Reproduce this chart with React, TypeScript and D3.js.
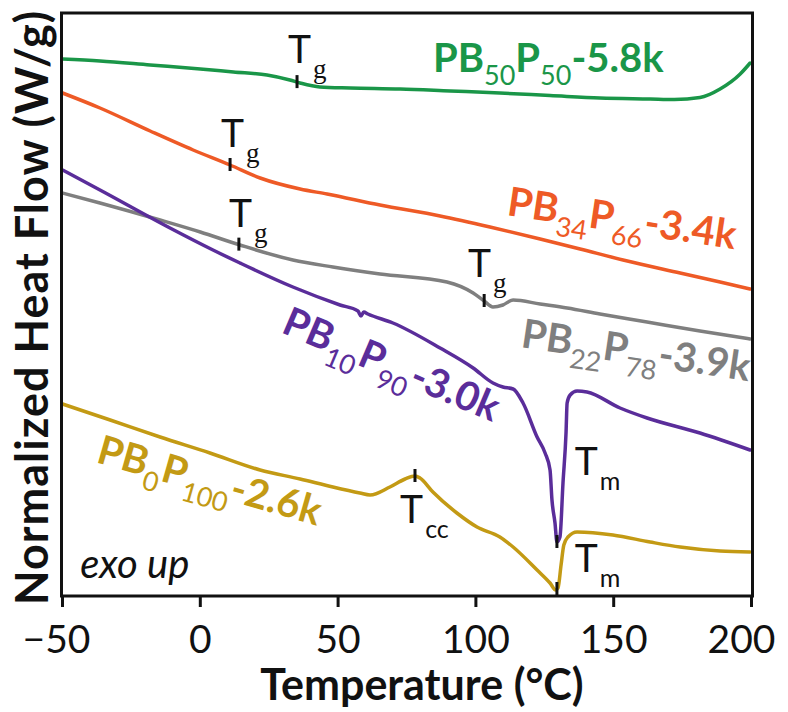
import React from 'react';
import * as d3 from 'd3';

// ---------- data (temperature °C, normalized heat flow, arbitrary offset W/g) ----------
const greenT = [-50, -36.4, -18.2, 0, 12, 24.2, 32.5, 36.2, 43.4, 54.4, 72.5, 90.7, 108.7, 126.9, 145, 163.2, 172, 181.3, 188.6, 195.9, 199.5];
const greenY = [5.37, 5.35, 5.31, 5.27, 5.24, 5.21, 5.16, 5.13, 5.09, 5.08, 5.07, 5.05, 5.03, 5.005, 4.98, 4.97, 4.965, 4.985, 5.07, 5.22, 5.33];

const orangeT = [-50, -36.4, -18.2, -2.6, 10.8, 21.7, 36.2, 46, 65.2, 87, 105.1, 123.3, 137.8, 153.4, 174.1, 188.6, 199.5];
const orangeY = [5.03, 4.88, 4.65, 4.46, 4.31, 4.18, 4.07, 4.02, 3.91, 3.80, 3.69, 3.57, 3.47, 3.36, 3.23, 3.14, 3.07];

const grayT = [-50, -36.4, -14.6, 0, 14.4, 33.6, 48.1, 65.2, 89.5, 99, 103, 106.2, 109.8, 113.5, 123.3, 133.1, 145, 162.1, 181.3, 199.5];
const grayY = [4.03, 3.93, 3.76, 3.64, 3.51, 3.36, 3.29, 3.22, 3.14, 3.03, 2.95, 2.89, 2.91, 2.96, 2.92, 2.88, 2.82, 2.74, 2.65, 2.57];

const purpleT = [-50, -36.4, -11, 4.6, 14.4, 33.6, 50.7, 57.2, 58.3, 59.3, 60.8, 69.9, 87, 99, 106.2, 109.8, 113.5, 117.1, 122.2, 125.1, 126.9, 127.6, 128.7, 129.4, 130.5, 131.6, 132.7, 133.1, 134.2, 136.7, 140.3, 152.3, 162.1, 181.3, 199.5];
const purpleY = [4.26, 4.06, 3.68, 3.46, 3.33, 3.09, 2.91, 2.85, 2.80, 2.84, 2.82, 2.73, 2.48, 2.28, 2.13, 2.09, 2.07, 1.93, 1.59, 1.43, 1.26, 0.96, 0.73, 0.54, 0.59, 1.13, 1.63, 1.93, 2.01, 2.05, 2.04, 1.88, 1.78, 1.63, 1.46];

const goldT = [-50, -32.7, -14.6, 3.5, 21.7, 36.2, 48.1, 57.9, 61.6, 68.8, 74.3, 77.9, 79.7, 84.4, 93.1, 100.4, 108.7, 113.5, 122.2, 126.9, 129, 129.8, 130.9, 131.9, 133.4, 136.7, 149.7, 163.2, 174.1, 188.6, 199.5];
const goldY = [1.92, 1.76, 1.59, 1.43, 1.26, 1.17, 1.09, 1.03, 1.01, 1.09, 1.17, 1.20, 1.18, 1.04, 0.83, 0.69, 0.59, 0.49, 0.26, 0.13, 0.06, 0.08, 0.31, 0.51, 0.59, 0.64, 0.61, 0.54, 0.49, 0.45, 0.44];

const xTicks = [-50, 0, 50, 100, 150, 200];
const xTickLabels = ['\u221250', '0', '50', '100', '150', '200'];

// transition markers: series index, temperature
const markerSeries = [0, 1, 2, 2, 4, 3, 4];
const markerTemps = [35.1, 10.8, 14.0, 103, 77.9, 129.4, 129.4];

// transition annotation labels
const annMain = ['T', 'T', 'T', 'T', 'T', 'T', 'T'];
const annSub = ['g', 'g', 'g', 'g', 'm', 'm', 'cc'];
const annT = [31.8, 7.5, 10.4, 97.1, 135.9, 135.9, 72.5];
const annY = [5.33, 4.49, 3.69, 3.19, 1.21, 0.24, 0.73];

// series labels: [main, sub, main, sub, main]
const seriesNames = [
  ['PB', '50', 'P', '50', '-5.8k'],
  ['PB', '34', 'P', '66', '-3.4k'],
  ['PB', '22', 'P', '78', '-3.9k'],
  ['PB', '10', 'P', '90', '-3.0k'],
  ['PB', '0', 'P', '100', '-2.6k'],
];
const labelT = [84.4, 110.9, 116, 28.9, -38.2];
const labelY = [5.24, 3.81, 2.49, 2.64, 1.34];
const labelAngle = [0, 8.5, 8.5, 23, 16];

const colors = ['#1a9648', '#ee5a26', '#7f7f7f', '#5a2d9a', '#c39a14'];

const seriesT = [greenT, orangeT, grayT, purpleT, goldT];
const seriesY = [greenY, orangeY, grayY, purpleY, goldY];

const W = 788;
const H = 712;

export default function App() {
  const x = d3.scaleLinear().domain([-50, 200]).range([62.5, 751.5]);
  const y = d3.scaleLinear().domain([0, 5.83]).range([596, 13]);

  const line = d3
    .line<[number, number]>()
    .x((d) => x(d[0]))
    .y((d) => y(d[1]))
    .curve(d3.curveMonotoneX);

  const interp = (si: number, t: number) => {
    const ts = seriesT[si];
    const ys = seriesY[si];
    const i = Math.max(1, Math.min(ts.length - 1, d3.bisectLeft(ts, t)));
    const t0 = ts[i - 1], t1 = ts[i];
    const f = (t - t0) / (t1 - t0);
    return ys[i - 1] + f * (ys[i] - ys[i - 1]);
  };

  const font = 'Lato, "Open Sans", sans-serif';
  const x0 = x(-50);
  const x1 = x(200);
  const yTop = y(5.83);
  const yBot = y(0);

  return (
    <svg
      width={W}
      height={H}
      style={{ position: 'absolute', left: 0, top: 0, background: '#fff' }}
      fontFamily={font}
    >
      <rect x={0} y={0} width={W} height={H} fill="#fff" />
      {/* series */}
      {seriesT.map((ts, si) => (
        <path
          key={si}
          d={line(ts.map((t, i) => [t, seriesY[si][i]]) as [number, number][]) || ''}
          fill="none"
          stroke={colors[si]}
          strokeWidth={3.5}
          strokeLinejoin="round"
          strokeLinecap="round"
        />
      ))}
      {/* markers */}
      {markerTemps.map((t, i) => {
        const cy = y(interp(markerSeries[i], t));
        return (
          <line key={i} x1={x(t)} x2={x(t)} y1={cy - 7} y2={cy + 6} stroke="#111" strokeWidth={3} />
        );
      })}
      {/* annotations */}
      {annMain.map((m, i) => (
        <text key={i} x={x(annT[i])} y={y(annY[i])} fontSize={39} fill="#111">
          {m}
          <tspan
            dx={2}
            dy={15}
            fontSize={annSub[i] === 'g' ? 27 : 25}
            fontFamily={annSub[i] === 'g' ? '"Liberation Serif", serif' : font}
          >
            {annSub[i]}
          </tspan>
        </text>
      ))}
      {/* series labels */}
      {seriesNames.map((parts, si) => (
        <text
          key={si}
          transform={`translate(${x(labelT[si])},${y(labelY[si])}) rotate(${labelAngle[si]})`}
          fill={colors[si]}
          fontSize={40}
          fontWeight={700}
        >
          {parts.map((p, k) =>
            k % 2 === 1 ? (
              <tspan key={k} dy={13} fontSize={27} fontWeight={400}>
                {p}
              </tspan>
            ) : (
              <tspan key={k} dy={k === 0 ? 0 : -13}>
                {p}
              </tspan>
            )
          )}
        </text>
      ))}
      {/* exo up */}
      <text x={x(-43.6)} y={y(0.18)} fontSize={40} fontStyle="italic" fill="#111">
        exo up
      </text>
      {/* frame */}
      <rect x={x0 - 1} y={yTop} width={x1 - x0 + 2} height={yBot - yTop} fill="none" stroke="#111" strokeWidth={3} />
      {/* ticks */}
      {xTicks.map((t, i) => (
        <g key={t}>
          <line x1={x(t)} x2={x(t)} y1={yBot} y2={yBot + 11} stroke="#111" strokeWidth={3} />
          <text
            x={x(t) + (i === 0 ? -6 : i === xTicks.length - 1 ? -10 : 0)}
            y={653}
            textAnchor="middle"
            fontSize={39}
            fill="#111"
          >
            {xTickLabels[i]}
          </text>
        </g>
      ))}
      {/* axis titles */}
      <text x={422} y={700} textAnchor="middle" fontSize={43} fontWeight={700} fill="#111">
        Temperature (°C)
      </text>
      <text
        transform={`translate(48,${(yTop + yBot) / 2 + 3}) rotate(-90)`}
        textAnchor="middle"
        fontSize={45}
        fontWeight={700}
        letterSpacing={1}
        fill="#111"
      >
        Normalized Heat Flow (W/g)
      </text>
    </svg>
  );
}
